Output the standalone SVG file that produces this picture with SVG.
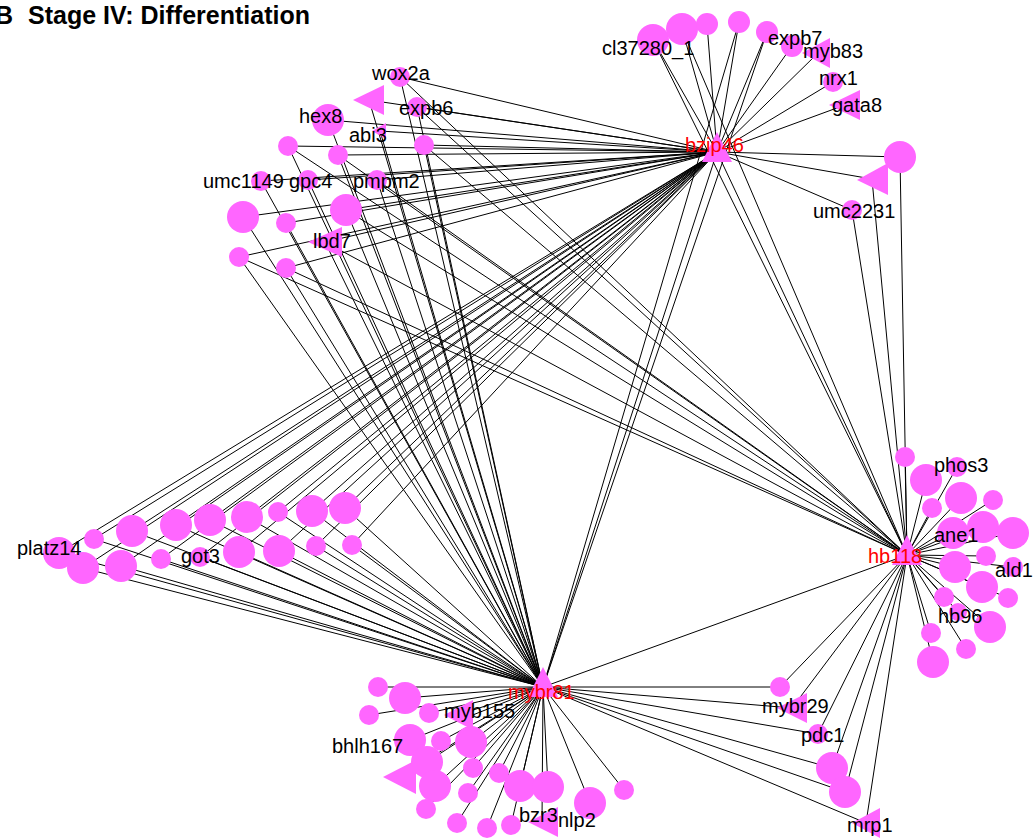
<svg xmlns="http://www.w3.org/2000/svg" width="1033" height="838" viewBox="0 0 1033 838">
<style>
.n{fill:#ff66ff}
.l{font-family:"Liberation Sans",Arial,sans-serif;font-size:20px;fill:#000}
.h{fill:#ff0000}
.t{font-family:"Liberation Sans",Arial,sans-serif;font-size:25px;font-weight:bold;fill:#000}
#edges line{stroke:#000;stroke-width:1}
</style>
<rect width="1033" height="838" fill="#fff"/>
<text class="t" x="-5" y="24">B</text>
<text class="t" x="28" y="24">Stage IV: Differentiation</text>
<g id="edges">
<!-- top cluster -->
<line x1="653" y1="40" x2="717" y2="152"/><line x1="653" y1="40" x2="907" y2="555"/>
<line x1="682" y1="29" x2="717" y2="152"/><line x1="682" y1="29" x2="907" y2="555"/>
<line x1="707" y1="24" x2="717" y2="152"/>
<line x1="739" y1="22" x2="717" y2="152"/><line x1="739" y1="22" x2="543" y2="687"/>
<line x1="767" y1="32" x2="717" y2="152"/><line x1="767" y1="32" x2="543" y2="687"/>
<line x1="792" y1="46" x2="717" y2="152"/>
<line x1="818" y1="53" x2="717" y2="152"/>
<line x1="833" y1="82" x2="717" y2="152"/>
<line x1="845" y1="105" x2="717" y2="152"/>
<line x1="900" y1="157" x2="717" y2="152"/><line x1="900" y1="157" x2="907" y2="555"/>
<line x1="872" y1="179" x2="717" y2="152"/><line x1="872" y1="179" x2="907" y2="555"/>
<line x1="852" y1="210" x2="717" y2="152"/><line x1="852" y1="210" x2="907" y2="555"/>
<!-- hubs -->
<line x1="717" y1="152" x2="543" y2="687"/><line x1="717" y1="152" x2="907" y2="555"/><line x1="543" y1="687" x2="907" y2="555"/>
<!-- top-left cluster -->
<line x1="400" y1="77" x2="717" y2="152"/><line x1="400" y1="77" x2="907" y2="555"/><line x1="400" y1="77" x2="543" y2="687"/>
<line x1="369" y1="100" x2="717" y2="152"/><line x1="369" y1="100" x2="543" y2="687"/>
<line x1="417" y1="107" x2="717" y2="152"/><line x1="417" y1="107" x2="907" y2="555"/><line x1="417" y1="107" x2="543" y2="687"/>
<line x1="328" y1="120" x2="717" y2="152"/><line x1="328" y1="120" x2="543" y2="687"/>
<line x1="380" y1="131" x2="717" y2="152"/><line x1="380" y1="131" x2="543" y2="687"/>
<line x1="288" y1="146" x2="717" y2="152"/><line x1="288" y1="146" x2="907" y2="555"/><line x1="288" y1="146" x2="543" y2="687"/>
<line x1="338" y1="155" x2="717" y2="152"/><line x1="338" y1="155" x2="907" y2="555"/><line x1="338" y1="155" x2="543" y2="687"/>
<line x1="424" y1="145" x2="717" y2="152"/><line x1="424" y1="145" x2="907" y2="555"/><line x1="424" y1="145" x2="543" y2="687"/>
<line x1="261" y1="181" x2="717" y2="152"/><line x1="261" y1="181" x2="543" y2="687"/>
<line x1="308" y1="180" x2="717" y2="152"/><line x1="308" y1="180" x2="543" y2="687"/>
<line x1="377" y1="180" x2="717" y2="152"/><line x1="377" y1="180" x2="907" y2="555"/><line x1="377" y1="180" x2="543" y2="687"/>
<line x1="346" y1="210" x2="717" y2="152"/><line x1="346" y1="210" x2="907" y2="555"/><line x1="346" y1="210" x2="543" y2="687"/>
<line x1="243" y1="217" x2="717" y2="152"/><line x1="243" y1="217" x2="543" y2="687"/>
<line x1="286" y1="223" x2="717" y2="152"/><line x1="286" y1="223" x2="543" y2="687"/>
<line x1="325" y1="242" x2="717" y2="152"/><line x1="325" y1="242" x2="907" y2="555"/><line x1="325" y1="242" x2="543" y2="687"/>
<line x1="239" y1="257" x2="717" y2="152"/><line x1="239" y1="257" x2="907" y2="555"/><line x1="239" y1="257" x2="543" y2="687"/>
<line x1="286" y1="268" x2="717" y2="152"/><line x1="286" y1="268" x2="907" y2="555"/><line x1="286" y1="268" x2="543" y2="687"/>
<!-- left cluster -->
<line x1="59" y1="553" x2="717" y2="152"/><line x1="59" y1="553" x2="543" y2="687"/>
<line x1="94" y1="539" x2="717" y2="152"/><line x1="94" y1="539" x2="543" y2="687"/>
<line x1="83" y1="568" x2="717" y2="152"/><line x1="83" y1="568" x2="543" y2="687"/>
<line x1="132" y1="531" x2="717" y2="152"/><line x1="132" y1="531" x2="543" y2="687"/>
<line x1="121" y1="566" x2="717" y2="152"/><line x1="121" y1="566" x2="543" y2="687"/>
<line x1="176" y1="525" x2="717" y2="152"/><line x1="176" y1="525" x2="543" y2="687"/>
<line x1="161" y1="559" x2="717" y2="152"/><line x1="161" y1="559" x2="543" y2="687"/>
<line x1="210" y1="520" x2="717" y2="152"/><line x1="210" y1="520" x2="543" y2="687"/>
<line x1="200" y1="557" x2="717" y2="152"/><line x1="200" y1="557" x2="543" y2="687"/>
<line x1="247" y1="517" x2="717" y2="152"/><line x1="247" y1="517" x2="543" y2="687"/>
<line x1="239" y1="552" x2="717" y2="152"/><line x1="239" y1="552" x2="543" y2="687"/>
<line x1="278" y1="512" x2="717" y2="152"/><line x1="278" y1="512" x2="543" y2="687"/>
<line x1="279" y1="551" x2="717" y2="152"/><line x1="279" y1="551" x2="543" y2="687"/>
<line x1="312" y1="511" x2="717" y2="152"/><line x1="312" y1="511" x2="543" y2="687"/>
<line x1="316" y1="546" x2="717" y2="152"/><line x1="316" y1="546" x2="543" y2="687"/>
<line x1="345" y1="508" x2="717" y2="152"/><line x1="345" y1="508" x2="543" y2="687"/>
<line x1="352" y1="545" x2="717" y2="152"/><line x1="352" y1="545" x2="543" y2="687"/>
<!-- right cluster -->
<line x1="905" y1="457" x2="907" y2="555"/><line x1="926" y1="480" x2="907" y2="555"/>
<line x1="957" y1="467" x2="907" y2="555"/><line x1="932" y1="508" x2="907" y2="555"/>
<line x1="961" y1="498" x2="907" y2="555"/><line x1="993" y1="500" x2="907" y2="555"/>
<line x1="953" y1="533" x2="907" y2="555"/><line x1="983" y1="527" x2="907" y2="555"/>
<line x1="1013" y1="533" x2="907" y2="555"/><line x1="986" y1="556" x2="907" y2="555"/>
<line x1="955" y1="567" x2="907" y2="555"/><line x1="1013" y1="567" x2="907" y2="555"/>
<line x1="982" y1="587" x2="907" y2="555"/><line x1="1008" y1="598" x2="907" y2="555"/>
<line x1="944" y1="597" x2="907" y2="555"/><line x1="958" y1="612" x2="907" y2="555"/>
<line x1="990" y1="627" x2="907" y2="555"/><line x1="931" y1="633" x2="907" y2="555"/>
<line x1="966" y1="649" x2="907" y2="555"/><line x1="933" y1="662" x2="907" y2="555"/>
<!-- bottom-right -->
<line x1="780" y1="687" x2="543" y2="687"/><line x1="780" y1="687" x2="907" y2="555"/>
<line x1="792" y1="708" x2="543" y2="687"/><line x1="792" y1="708" x2="907" y2="555"/>
<line x1="818" y1="734" x2="543" y2="687"/><line x1="818" y1="734" x2="907" y2="555"/>
<line x1="832" y1="768" x2="543" y2="687"/><line x1="832" y1="768" x2="907" y2="555"/>
<line x1="845" y1="792" x2="543" y2="687"/><line x1="845" y1="792" x2="907" y2="555"/>
<line x1="866" y1="823" x2="543" y2="687"/><line x1="866" y1="823" x2="907" y2="555"/>
<!-- bottom-left -->
<line x1="378" y1="687" x2="543" y2="687"/><line x1="405" y1="698" x2="543" y2="687"/>
<line x1="369" y1="715" x2="543" y2="687"/><line x1="429" y1="713" x2="543" y2="687"/>
<line x1="458" y1="715" x2="543" y2="687"/><line x1="410" y1="740" x2="543" y2="687"/>
<line x1="441" y1="741" x2="543" y2="687"/><line x1="471" y1="742" x2="543" y2="687"/>
<line x1="427" y1="762" x2="543" y2="687"/><line x1="473" y1="768" x2="543" y2="687"/>
<line x1="400" y1="777" x2="543" y2="687"/><line x1="435" y1="786" x2="543" y2="687"/>
<line x1="426" y1="809" x2="543" y2="687"/><line x1="468" y1="793" x2="543" y2="687"/>
<line x1="499" y1="773" x2="543" y2="687"/><line x1="520" y1="786" x2="543" y2="687"/>
<line x1="457" y1="823" x2="543" y2="687"/><line x1="487" y1="828" x2="543" y2="687"/>
<line x1="511" y1="825" x2="543" y2="687"/><line x1="548" y1="787" x2="543" y2="687"/>
<line x1="542" y1="822" x2="543" y2="687"/><line x1="590" y1="803" x2="543" y2="687"/>
<line x1="624" y1="790" x2="543" y2="687"/>
</g>
<g id="top-nodes">
<g id="n-cl37280_1"><circle class="n" cx="653" cy="40" r="16"/></g>
<g id="n-t2"><circle class="n" cx="682" cy="29" r="16"/></g>
<g id="n-t3"><circle class="n" cx="707" cy="24" r="11"/></g>
<g id="n-t4"><circle class="n" cx="739" cy="22" r="11"/></g>
<g id="n-t5"><circle class="n" cx="767" cy="32" r="11"/></g>
<g id="n-expb7"><circle class="n" cx="792" cy="46" r="11"/></g>
<g id="n-myb83"><polygon class="n" points="802,53 830,38 830,68"/></g>
<g id="n-nrx1"><circle class="n" cx="833" cy="82" r="10"/></g>
<g id="n-gata8"><polygon class="n" points="829,105 860,90 860,120"/></g>
<g id="n-r1"><circle class="n" cx="900" cy="157" r="16"/></g>
<g id="n-r2"><polygon class="n" points="857,180 888,163 888,195"/></g>
<g id="n-umc2231"><circle class="n" cx="852" cy="210" r="10"/></g>
</g>
<g id="top-left-nodes">
<g id="n-wox2a"><circle class="n" cx="400" cy="77" r="10"/></g>
<g id="n-tl-tri"><polygon class="n" points="353,100 384,85 384,115"/></g>
<g id="n-expb6"><circle class="n" cx="417" cy="107" r="10"/></g>
<g id="n-hex8"><circle class="n" cx="328" cy="120" r="16"/></g>
<g id="n-abi3"><polygon class="n" points="372,131 386,123 386,139"/></g>
<g id="n-tl1"><circle class="n" cx="288" cy="146" r="10"/></g>
<g id="n-tl2"><circle class="n" cx="338" cy="155" r="10"/></g>
<g id="n-tl3"><circle class="n" cx="424" cy="145" r="10"/></g>
<g id="n-umc1149"><circle class="n" cx="261" cy="181" r="10"/></g>
<g id="n-gpc4"><circle class="n" cx="308" cy="180" r="10"/></g>
<g id="n-pmpm2"><circle class="n" cx="377" cy="180" r="10"/></g>
<g id="n-tl4"><circle class="n" cx="346" cy="210" r="16"/></g>
<g id="n-tl5"><circle class="n" cx="243" cy="217" r="16"/></g>
<g id="n-tl6"><circle class="n" cx="286" cy="223" r="10"/></g>
<g id="n-lbd7"><polygon class="n" points="308,242 342,227 342,257"/></g>
<g id="n-tl7"><circle class="n" cx="239" cy="257" r="10"/></g>
<g id="n-tl8"><circle class="n" cx="286" cy="268" r="10"/></g>
</g>
<g id="left-nodes">
<g id="n-platz14"><circle class="n" cx="59" cy="553" r="16"/></g>
<g id="n-l2"><circle class="n" cx="94" cy="539" r="10"/></g>
<g id="n-l3"><circle class="n" cx="83" cy="568" r="16"/></g>
<g id="n-l4"><circle class="n" cx="132" cy="531" r="16"/></g>
<g id="n-l5"><circle class="n" cx="121" cy="566" r="16"/></g>
<g id="n-l6"><circle class="n" cx="176" cy="525" r="16"/></g>
<g id="n-l7"><circle class="n" cx="161" cy="559" r="10"/></g>
<g id="n-l8"><circle class="n" cx="210" cy="520" r="16"/></g>
<g id="n-got3"><circle class="n" cx="200" cy="557" r="10"/></g>
<g id="n-l10"><circle class="n" cx="247" cy="517" r="16"/></g>
<g id="n-l11"><circle class="n" cx="239" cy="552" r="16"/></g>
<g id="n-l12"><circle class="n" cx="278" cy="512" r="10"/></g>
<g id="n-l13"><circle class="n" cx="279" cy="551" r="16"/></g>
<g id="n-l14"><circle class="n" cx="312" cy="511" r="16"/></g>
<g id="n-l15"><circle class="n" cx="316" cy="546" r="10"/></g>
<g id="n-l16"><circle class="n" cx="345" cy="508" r="16"/></g>
<g id="n-l17"><circle class="n" cx="352" cy="545" r="10"/></g>
</g>
<g id="right-nodes">
<g id="n-r01"><circle class="n" cx="905" cy="457" r="10"/></g>
<g id="n-r02"><circle class="n" cx="926" cy="480" r="16"/></g>
<g id="n-phos3"><circle class="n" cx="957" cy="467" r="10"/></g>
<g id="n-r04"><circle class="n" cx="932" cy="508" r="10"/></g>
<g id="n-r05"><circle class="n" cx="961" cy="498" r="16"/></g>
<g id="n-r06"><circle class="n" cx="993" cy="500" r="10"/></g>
<g id="n-ane1"><circle class="n" cx="953" cy="533" r="16"/></g>
<g id="n-r08"><circle class="n" cx="983" cy="527" r="16"/></g>
<g id="n-r09"><circle class="n" cx="1013" cy="533" r="16"/></g>
<g id="n-r10"><circle class="n" cx="986" cy="556" r="10"/></g>
<g id="n-r11"><circle class="n" cx="955" cy="567" r="16"/></g>
<g id="n-ald1"><circle class="n" cx="1013" cy="567" r="10"/></g>
<g id="n-r13"><circle class="n" cx="982" cy="587" r="16"/></g>
<g id="n-r14"><circle class="n" cx="1008" cy="598" r="10"/></g>
<g id="n-r15"><circle class="n" cx="944" cy="597" r="10"/></g>
<g id="n-hb96"><circle class="n" cx="958" cy="612" r="9"/></g>
<g id="n-r17"><circle class="n" cx="990" cy="627" r="16"/></g>
<g id="n-r18"><circle class="n" cx="931" cy="633" r="10"/></g>
<g id="n-r19"><circle class="n" cx="966" cy="649" r="10"/></g>
<g id="n-r20"><circle class="n" cx="933" cy="662" r="16"/></g>
</g>
<g id="bottom-right-nodes">
<g id="n-br1"><circle class="n" cx="780" cy="687" r="10"/></g>
<g id="n-mybr29"><polygon class="n" points="777,708 807,693 807,723"/></g>
<g id="n-pdc1"><circle class="n" cx="818" cy="734" r="10"/></g>
<g id="n-br4"><circle class="n" cx="832" cy="768" r="16"/></g>
<g id="n-br5"><circle class="n" cx="845" cy="792" r="16"/></g>
<g id="n-mrp1"><polygon class="n" points="852,823 880,808 880,838"/></g>
</g>
<g id="bottom-left-nodes">
<g id="n-b01"><circle class="n" cx="378" cy="687" r="10"/></g>
<g id="n-b02"><circle class="n" cx="405" cy="698" r="16"/></g>
<g id="n-b03"><circle class="n" cx="369" cy="715" r="10"/></g>
<g id="n-b04"><circle class="n" cx="429" cy="713" r="10"/></g>
<g id="n-myb155"><polygon class="n" points="444,715 473,700 473,730"/></g>
<g id="n-bhlh167"><circle class="n" cx="410" cy="740" r="16"/></g>
<g id="n-b07"><circle class="n" cx="441" cy="741" r="10"/></g>
<g id="n-b08"><circle class="n" cx="471" cy="742" r="16"/></g>
<g id="n-b09"><circle class="n" cx="427" cy="762" r="16"/></g>
<g id="n-b10"><circle class="n" cx="473" cy="768" r="10"/></g>
<g id="n-b11"><polygon class="n" points="383,777 416,760 416,794"/></g>
<g id="n-b12"><circle class="n" cx="435" cy="786" r="16"/></g>
<g id="n-b13"><circle class="n" cx="426" cy="809" r="10"/></g>
<g id="n-b14"><circle class="n" cx="468" cy="793" r="10"/></g>
<g id="n-b15"><circle class="n" cx="499" cy="773" r="10"/></g>
<g id="n-b16"><circle class="n" cx="520" cy="786" r="16"/></g>
<g id="n-b17"><circle class="n" cx="457" cy="823" r="10"/></g>
<g id="n-b18"><circle class="n" cx="487" cy="828" r="10"/></g>
<g id="n-b19"><circle class="n" cx="511" cy="825" r="10"/></g>
<g id="n-bzr3"><circle class="n" cx="548" cy="787" r="16"/></g>
<g id="n-nlp2"><polygon class="n" points="528,822 558,807 558,837"/></g>
<g id="n-b22"><circle class="n" cx="590" cy="803" r="16"/></g>
<g id="n-b23"><circle class="n" cx="624" cy="790" r="10"/></g>
</g>
<g id="hubs">
<g id="n-bzip46"><polygon class="n" points="717,132 702,162 732,162"/></g>
<g id="n-hb118"><polygon class="n" points="907,535 892,565 922,565"/></g>
<g id="n-mybr81"><polygon class="n" points="543,667 528,697 558,697"/></g>
</g>
<g id="labels">
<text class="l" x="602" y="55">cl37280_1</text>
<text class="l" x="768" y="45">expb7</text>
<text class="l" x="803" y="58">myb83</text>
<text class="l" x="819" y="85">nrx1</text>
<text class="l" x="832" y="112">gata8</text>
<text class="l" x="813" y="218">umc2231</text>
<text class="l" x="372" y="80">wox2a</text>
<text class="l" x="399" y="115">expb6</text>
<text class="l" x="299" y="123">hex8</text>
<text class="l" x="349" y="142">abi3</text>
<text class="l" x="203" y="188">umc1149</text>
<text class="l" x="289" y="188">gpc4</text>
<text class="l" x="353" y="188">pmpm2</text>
<text class="l" x="313" y="248">lbd7</text>
<text class="l" x="17" y="555">platz14</text>
<text class="l" x="181" y="563">got3</text>
<text class="l" x="934" y="472">phos3</text>
<text class="l" x="934" y="542">ane1</text>
<text class="l" x="995" y="577">ald1</text>
<text class="l" x="938" y="623">hb96</text>
<text class="l" x="444" y="718">myb155</text>
<text class="l" x="332" y="753">bhlh167</text>
<text class="l" x="519" y="822">bzr3</text>
<text class="l" x="558" y="827">nlp2</text>
<text class="l" x="762" y="713">mybr29</text>
<text class="l" x="801" y="742">pdc1</text>
<text class="l" x="847" y="832">mrp1</text>
<text class="l h" x="685" y="152">bzip46</text>
<text class="l h" x="868" y="563">hb118</text>
<text class="l h" x="508" y="699">mybr81</text>
</g>
</svg>
